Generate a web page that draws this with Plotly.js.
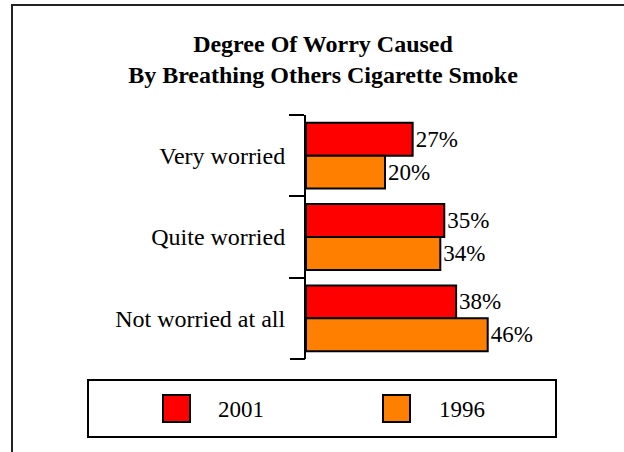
<!DOCTYPE html>
<html>
<head>
<meta charset="utf-8">
<script src="https://cdn.plot.ly/plotly-3.0.1.min.js"></script>
<style>
  html, body { margin: 0; padding: 0; background: #fff; }
  #wrap { position: relative; width: 624px; height: 452px; }
  #chart { width: 624px; height: 452px; }
  #frame { position: absolute; left: 11px; top: 4px; right: -10px; bottom: -10px;
           border-left: 2px solid #222; border-top: 2px solid #222; pointer-events: none; }
</style>
</head>
<body>
<div id="wrap"><div id="chart"></div><div id="frame"></div></div>
<script>
// ---- data ----
var categories = ["Very worried", "Quite worried", "Not worried at all"];
var seriesNames = ["2001", "1996"];
var values2001 = [27, 35, 38];
var values1996 = [20, 34, 46];
var seriesColors = ["#ff0000", "#ff8000"];

// ---- layout geometry (pixels) ----
var W = 624, H = 452;
var M = {l: 306, r: 81, t: 115, b: 93};
var PW = W - M.l - M.r, PH = H - M.t - M.b;
function px(x) { return (x - M.l) / PW; }
function py(y) { return (H - M.b - y) / PH; }

var FONT = "Liberation Serif";

function barTrace(name, vals, color) {
  return {
    type: "bar", orientation: "h", name: name,
    y: categories, x: vals,
    marker: {color: color, line: {color: "#000", width: 2}},
    text: vals.map(function (v) { return v + "%"; }),
    textposition: "outside", constraintext: "none", cliponaxis: false,
    textfont: {family: FONT, size: 23, color: "#000"},
    hoverinfo: "skip"
  };
}

var data = [
  barTrace(seriesNames[0], values2001, seriesColors[0]),
  barTrace(seriesNames[1], values1996, seriesColors[1])
];

// custom legend (big squares)
var shapes = [{
  type: "rect", xref: "paper", yref: "paper",
  x0: px(88), x1: px(556), y0: py(437), y1: py(380),
  line: {color: "#000", width: 2}, fillcolor: "rgba(0,0,0,0)"
}, {
  // bottom boundary tick of the category axis
  type: "line", xref: "paper", yref: "paper",
  x0: px(290), x1: px(305), y0: 0, y1: 0,
  line: {color: "#000", width: 2}
}];
var annotations = [];
var legX = [163, 383], legTextX = [216, 437];
for (var i = 0; i < seriesNames.length; i++) {
  shapes.push({
    type: "rect", xref: "paper", yref: "paper",
    x0: px(legX[i]), x1: px(legX[i] + 27), y0: py(422), y1: py(395),
    line: {color: "#000", width: 2}, fillcolor: seriesColors[i]
  });
  annotations.push({
    xref: "paper", yref: "paper", x: px(legTextX[i]), y: py(409),
    xanchor: "left", yanchor: "middle", showarrow: false,
    text: seriesNames[i], font: {family: FONT, size: 23, color: "#000"}
  });
}

var layout = {
  width: W, height: H,
  margin: M,
  font: {family: FONT, color: "#000"},
  paper_bgcolor: "#fff", plot_bgcolor: "#fff",
  showlegend: false,
  barmode: "group", bargap: 0.19, bargroupgap: 0,
  title: {
    text: "<b>Degree Of Worry Caused<br>By Breathing Others Cigarette Smoke</b>",
    font: {family: FONT, size: 24, color: "#000"},
    x: 323 / W, xanchor: "center",
    y: 1 - 52 / H, yanchor: "top", yref: "container"
  },
  xaxis: {range: [0, 60], visible: false, fixedrange: true},
  yaxis: {
    type: "category", range: [2.5, -0.5],
    showline: true, linecolor: "#000", linewidth: 2,
    ticks: "outside", ticklen: 15, tickwidth: 2, tickcolor: "#000",
    tickson: "boundaries", showgrid: false, zeroline: false,
    ticklabelstandoff: 14,
    tickfont: {family: FONT, size: 24, color: "#000"}
  },
  shapes: shapes,
  annotations: annotations
};

Plotly.newPlot("chart", data, layout, {staticPlot: true, displayModeBar: false});
</script>
</body>
</html>
